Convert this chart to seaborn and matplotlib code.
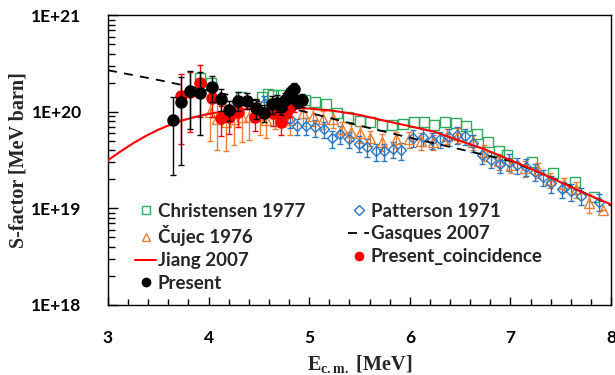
import numpy as np
import matplotlib
matplotlib.use('Agg')
import matplotlib.pyplot as plt
from matplotlib.lines import Line2D
from matplotlib.ticker import FuncFormatter, LogLocator, MultipleLocator, NullFormatter
import seaborn as sns

# S-factor values are given in units of 1E+19 MeV barn
christensen_e = [3.91, 4.02, 4.21, 4.32, 4.53, 4.59, 4.64, 4.72, 4.81, 4.96, 5.06, 5.17,
                 5.28, 5.39, 5.50, 5.60, 5.72, 5.82, 5.93, 6.04, 6.14, 6.24, 6.35, 6.46,
                 6.56, 6.67, 6.78, 6.89, 6.97, 7.21, 7.42, 7.64, 7.83]
christensen_s = [22.4, 20.0, 11.5, 14.1, 14.1, 15.5, 15.1, 15.0, 14.4, 13.2, 12.7, 12.0,
                 9.8, 8.8, 8.1, 7.9, 7.3, 7.3, 7.4, 7.8, 7.8, 7.3, 7.8, 7.6,
                 7.1, 5.9, 4.9, 3.9, 3.6, 3.0, 2.3, 1.86, 1.32]

patterson_e = [4.55, 4.72, 4.81, 4.88, 4.97, 5.06, 5.15, 5.23, 5.31, 5.40, 5.49, 5.57,
               5.66, 5.74, 5.83, 5.91, 6.03, 6.13, 6.22, 6.30, 6.39, 6.47, 6.55, 6.63,
               6.72, 6.81, 6.90, 6.99, 7.07, 7.15, 7.24, 7.32, 7.40, 7.51, 7.60, 7.70, 7.88]
patterson_s = [12.0, 9.1, 8.5, 7.1, 7.2, 6.9, 6.6, 5.3, 5.9, 5.2, 4.7, 4.3,
               3.9, 3.9, 4.1, 4.0, 5.4, 5.5, 5.1, 5.2, 5.5, 5.8, 5.6, 4.8,
               3.6, 3.2, 2.9, 3.05, 2.8, 2.7, 2.4, 2.1, 1.82, 1.58, 1.50, 1.35, 1.17]
patterson_err = [2.5, 1.8, 1.7, 1.4, 1.4, 1.4, 1.3, 1.1, 1.2, 1.0, 0.9, 0.9,
                 0.8, 0.8, 0.8, 0.8, 1.1, 1.1, 1.0, 1.0, 1.1, 1.1, 1.1, 1.0,
                 0.7, 0.6, 0.6, 0.6, 0.55, 0.55, 0.5, 0.4, 0.36, 0.3, 0.3, 0.27, 0.23]

cujec_e = [4.01, 4.08, 4.17, 4.25, 4.33, 4.40, 4.51, 4.57, 4.66, 4.74, 4.81, 4.94, 5.04,
           5.14, 5.24, 5.33, 5.42, 5.50, 5.60, 5.72, 5.86, 5.99, 6.11, 6.23, 6.37, 6.48,
           6.63, 6.74, 6.89, 7.01, 7.14, 7.27, 7.39, 7.53, 7.65, 7.78, 7.92]
cujec_s = [10.0, 8.5, 7.9, 8.5, 8.9, 8.9, 9.3, 8.3, 9.7, 10.0, 8.3, 9.7, 9.1,
           8.5, 8.5, 6.6, 6.2, 6.0, 5.4, 4.9, 5.2, 5.2, 5.0, 4.9, 5.6, 5.8,
           4.9, 3.8, 3.1, 2.8, 2.6, 2.5, 1.97, 1.78, 1.58, 1.15, 0.97]
cujec_err = [5.0, 4.5, 4.0, 4.0, 4.0, 3.8, 3.5, 3.0, 3.0, 3.0, 2.5, 2.5, 2.0,
             1.8, 1.7, 1.3, 1.2, 1.2, 1.0, 1.0, 1.0, 1.0, 1.0, 0.9, 1.0, 1.0,
             0.9, 0.7, 0.6, 0.5, 0.5, 0.45, 0.35, 0.3, 0.3, 0.25, 0.0]

gasques_e = [3.0, 3.5, 4.0, 4.5, 5.0, 5.5, 6.0, 6.5, 7.0, 7.5, 8.0]
gasques_s = [27.0, 21.4, 16.6, 12.9, 9.8, 7.2, 5.4, 4.1, 3.1, 1.9, 1.07]

jiang_e = [3.0, 3.125, 3.25, 3.375, 3.5, 3.625, 3.75, 3.875, 4.0, 4.25, 4.5, 4.75, 5.0,
           5.25, 5.5, 5.75, 6.0, 6.25, 6.5, 6.75, 7.0, 7.25, 7.5, 7.75, 8.0]
jiang_s = [3.16, 3.89, 4.73, 5.62, 6.53, 7.41, 8.22, 8.91, 9.55, 10.47, 10.84, 10.96, 10.84,
           10.23, 9.3, 8.1, 7.1, 6.2, 5.0, 4.07, 3.16, 2.45, 1.86, 1.41, 1.10]

coinc_e = [3.73, 3.82, 3.91, 4.03, 4.12, 4.20, 4.29, 4.46, 4.64, 4.72, 4.77, 4.81, 4.85]
coinc_s = [14.7, 16.2, 19.8, 13.8, 8.6, 8.9, 10.0, 8.9, 9.7, 7.8, 9.7, 11.3, 12.4]
coinc_err = [10.0, 10.0, 11.0, 5.0, 3.0, 3.0, 3.0, 2.5, 2.5, 2.0, 2.0, 2.5, 2.5]

present_e = [3.65, 3.73, 3.82, 3.91, 4.03, 4.12, 4.20, 4.29, 4.38, 4.47, 4.55, 4.63,
             4.68, 4.72, 4.76, 4.80, 4.82, 4.85, 4.88, 4.93]
present_s = [8.2, 12.8, 16.6, 15.7, 18.2, 13.7, 10.5, 13.1, 13.1, 11.0, 9.8, 12.0,
             12.5, 11.3, 13.3, 15.0, 16.2, 17.3, 13.1, 13.3]
present_err = [6.0, 10.0, 10.0, 10.0, 5.5, 3.5, 2.5, 3.0, 2.5, 2.5, 2.0, 2.5,
               2.5, 2.0, 2.5, 2.5, 2.5, 2.5, 2.0, 2.0]

green = '#2EAA5C'
blue = '#2E78C2'
orange = '#ED7D31'
red = '#FF0000'

def main():
    sns.set_theme(style='ticks')
    plt.rcParams['font.family'] = ['Lato', 'DejaVu Sans']
    plt.rcParams['mathtext.fontset'] = 'custom'
    plt.rcParams['mathtext.rm'] = 'Liberation Serif:bold'
    plt.rcParams['mathtext.it'] = 'Liberation Serif:bold'
    plt.rcParams['mathtext.bf'] = 'Liberation Serif:bold'

    fig = plt.figure(figsize=(6.15, 3.75), dpi=100)
    ax = fig.add_axes([0.1756, 0.187, 0.818, 0.772])
    u = 1e19

    ax.plot(christensen_e, np.array(christensen_s) * u, 's', ms=7.5, mfc='none',
            mec=green, mew=1.0, zorder=2)
    ax.errorbar(cujec_e, np.array(cujec_s) * u, yerr=np.array(cujec_err) * u, fmt='^',
                ms=7, mfc='none', mec=orange, mew=1.0, ecolor=orange, elinewidth=1.0,
                capsize=2, zorder=3)
    ax.errorbar(patterson_e, np.array(patterson_s) * u, yerr=np.array(patterson_err) * u,
                fmt='D', ms=5.5, mfc='none', mec=blue, mew=1.0, ecolor=blue, elinewidth=1.0,
                capsize=2, zorder=3)
    sns.lineplot(x=gasques_e, y=np.array(gasques_s) * u, ax=ax, color='black',
                 linestyle=(0, (5, 4)), linewidth=1.3, zorder=4)
    sns.lineplot(x=jiang_e, y=np.array(jiang_s) * u, ax=ax, color=red,
                 linewidth=1.5, zorder=5)
    ax.errorbar(coinc_e, np.array(coinc_s) * u, yerr=np.array(coinc_err) * u, fmt='o',
                ms=8, color=red, ecolor=red, elinewidth=1.0, capsize=2, zorder=6)
    ax.errorbar(present_e, np.array(present_s) * u, yerr=np.array(present_err) * u, fmt='o',
                ms=8, color='black', ecolor='black', elinewidth=1.0, capsize=2, zorder=7)

    ax.set_yscale('log')
    ax.set_xlim(3, 8)
    ax.set_ylim(1e18, 1e21)
    ax.xaxis.set_major_locator(MultipleLocator(1))
    ax.xaxis.set_minor_locator(MultipleLocator(0.2))
    ax.yaxis.set_major_locator(LogLocator(base=10, numticks=10))
    ax.yaxis.set_minor_locator(LogLocator(base=10, subs=np.arange(2, 10), numticks=10))
    ax.yaxis.set_minor_formatter(NullFormatter())
    ax.yaxis.set_major_formatter(FuncFormatter(lambda v, p: '1E+%d' % round(np.log10(v))))

    ax.tick_params(axis='both', which='both', direction='in', top=False, right=False,
                   colors='black', labelsize=12.5)
    ax.tick_params(axis='y', which='major', length=7, width=1, pad=19)
    ax.tick_params(axis='y', which='minor', length=5, width=1)
    ax.tick_params(axis='x', which='major', length=6, width=1, pad=18)
    ax.tick_params(axis='x', which='minor', length=4, width=1)
    for lab in ax.get_xticklabels() + ax.get_yticklabels():
        lab.set_fontweight('bold')
    for s in ax.spines.values():
        s.set_color('black')
        s.set_linewidth(1.0)
    ax.grid(False)

    ax.set_ylabel('S-factor [MeV barn]', family='Liberation Serif', fontweight='bold',
                  fontsize=14.5)
    ax.yaxis.set_label_coords(-0.158, 0.5)
    ax.set_xlabel(r'E$_{\rm c.m.}$ [MeV]', family='Liberation Serif', fontweight='bold',
                  fontsize=14.5)
    ax.xaxis.set_label_coords(0.5, -0.165)

    handles = [
        Line2D([], [], marker='s', ls='none', ms=6, mfc='none', mec=green),
        Line2D([], [], marker='^', ls='none', ms=6, mfc='none', mec=orange),
        Line2D([], [], color=red, lw=1.5),
        Line2D([], [], marker='o', ls='none', ms=6, color='black'),
        Line2D([], [], marker='D', ls='none', ms=5, mfc='none', mec=blue),
        Line2D([], [], color='black', ls=(0, (5, 4)), lw=1.3),
        Line2D([], [], marker='o', ls='none', ms=6, color=red),
    ]
    labels = ['Christensen 1977', 'Čujec 1976', 'Jiang 2007', 'Present',
              'Patterson 1971', 'Gasques 2007', 'Present_coincidence']
    ax.legend(handles, labels, ncol=2, loc='lower left', bbox_to_anchor=(0.028, 0.0),
              frameon=False, prop={'family': 'Lato', 'weight': 'bold', 'size': 13.5},
              handlelength=1.1, handletextpad=0.1, columnspacing=2.3,
              labelspacing=0.3, borderaxespad=0.3)

    fig.savefig('out.png', dpi=100)
    plt.close(fig)

if __name__ == '__main__':
    main()
